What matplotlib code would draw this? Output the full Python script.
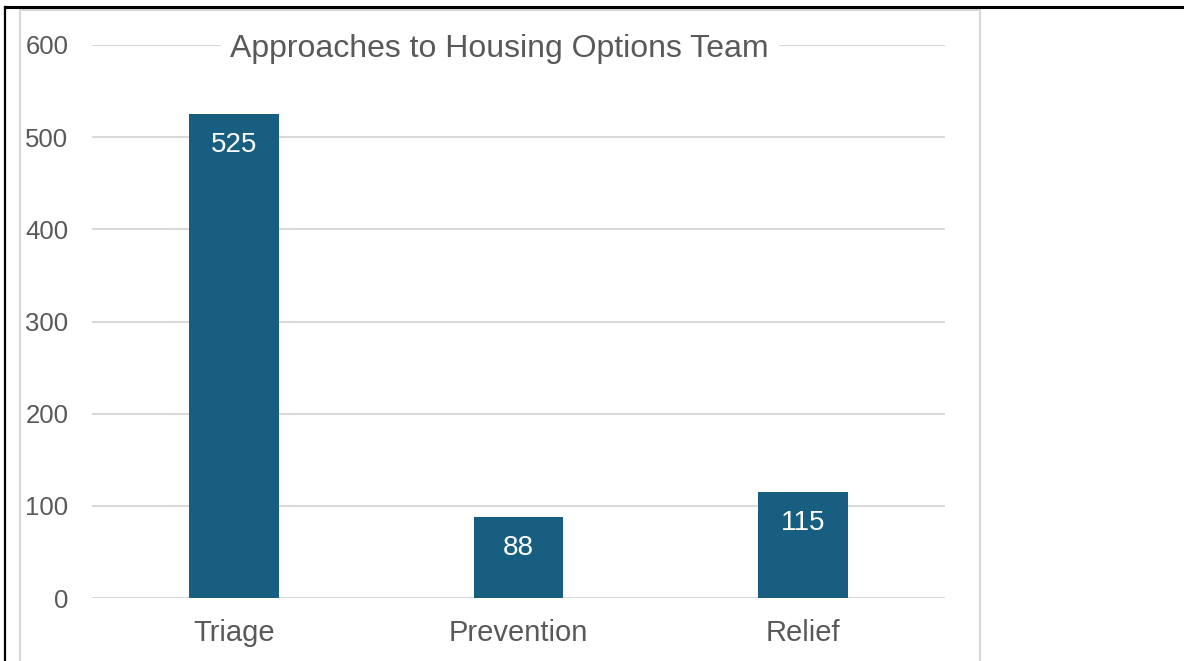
import matplotlib.pyplot as plt
from matplotlib.patches import Rectangle
from matplotlib.lines import Line2D

categories = ["Triage", "Prevention", "Relief"]
values = [525, 88, 115]
yticks = [0, 100, 200, 300, 400, 500, 600]
title = "Approaches to Housing Options Team"

BAR = "#175E80"
TXT = "#595959"
GRID = "#D9D9D9"

plt.rcParams["font.family"] = ["Liberation Sans", "DejaVu Sans"]

W, H = 1184, 661
fig = plt.figure(figsize=(W / 100, H / 100), dpi=100)

# outer frame: black edge top/left, gray chart border
fig.add_artist(Line2D([5 / W, 5 / W], [0, 1 - 7 / H], color="black", lw=1.6))
fig.add_artist(Line2D([5 / W, 1], [1 - 7 / H, 1 - 7 / H], color="black", lw=2.2))
fig.add_artist(Rectangle((20 / W, -0.05), (980 - 20) / W, 1.05 - 10 / H,
                         fill=False, ec=GRID, lw=1.6))

ax = fig.add_axes([92 / W, 1 - 598 / H, (945 - 92) / W, (598 - 45) / H])
x = range(len(categories))
bars = ax.bar(x, values, width=0.316, color=BAR, zorder=3)
ax.set_xlim(-0.5, len(categories) - 0.5)
ax.set_ylim(0, 600)
ax.set_yticks(yticks)
ax.set_xticks(list(x))
ax.set_xticklabels(categories)
ax.grid(axis="y", color=GRID, lw=1.5, zorder=0)
ax.set_axisbelow(True)
for s in ax.spines.values():
    s.set_visible(False)
ax.tick_params(axis="both", length=0, colors=TXT)
ax.tick_params(axis="y", labelsize=18.5, pad=17)
ax.tick_params(axis="x", labelsize=21, pad=15)

for b, v in zip(bars, values):
    ax.annotate(str(v), (b.get_x() + b.get_width() / 2, v), xytext=(0, -22.5),
                textcoords="offset points", ha="center", va="center",
                color="white", fontsize=20, zorder=4)

ax.text(0.478, 0.993, title, transform=ax.transAxes, ha="center", va="center",
        fontsize=23, color=TXT, zorder=5,
        bbox=dict(facecolor="white", edgecolor="none", pad=7))

fig.savefig("out.png", dpi=100)
